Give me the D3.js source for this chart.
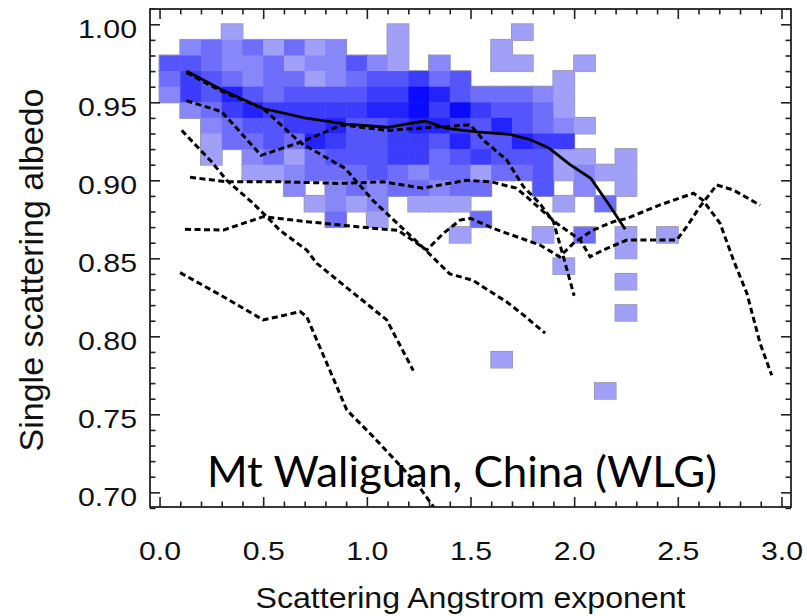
<!DOCTYPE html>
<html>
<head>
<meta charset="utf-8">
<script src="https://cdn.jsdelivr.net/npm/d3@7"></script>
<style>
  body { margin: 0; background: #fff; }
  text { font-family: "Liberation Sans", Arial, sans-serif; fill: #111; }
</style>
</head>
<body>
<div id="chart"></div>
<script>
"use strict";
(function() {

const WIDTH = 807
const HEIGHT = 616
const frame = { left: 150, right: 791, top: 9, bottom: 507 }

// heat map bins: left edge of each x bin, bottom edge of each y bin
const xBinLefts = [0.0, 0.1, 0.2, 0.3, 0.4, 0.5, 0.6, 0.7, 0.8, 0.9, 1.0, 1.1, 1.2,
                   1.3, 1.4, 1.5, 1.6, 1.7, 1.8, 1.9, 2.0, 2.1, 2.2, 2.3, 2.4]
const yBinBottoms = [0.99, 0.98, 0.97, 0.96, 0.95, 0.94, 0.93, 0.92, 0.91, 0.90, 0.89, 0.88,
                     0.87, 0.86, 0.85, 0.84, 0.83, 0.82, 0.81, 0.80, 0.79, 0.78, 0.77, 0.76]
// relative density per bin (0 = empty), one row per y bin
const binLevels = [
  [0,0,0,1,0, 0,0,0,0,0, 0,1,0,0,0, 0,0,1,0,0, 0,0,0,0,0],
  [0,2,3,2,3, 1,3,1,2,0, 0,1,0,0,0, 0,1,0,0,0, 0,0,0,0,0],
  [4,4,3,2,2, 3,1,2,2,4, 2,1,0,2,0, 0,1,1,0,0, 1,0,0,0,0],
  [3,5,4,3,2, 3,3,1,2,3, 4,4,5,3,4, 0,0,0,0,1, 0,0,0,0,0],
  [2,5,4,6,4, 3,4,4,4,4, 5,5,7,6,4, 3,3,3,2,1, 0,0,0,0,0],
  [0,2,3,5,6, 5,5,5,5,5, 6,6,7,5,7, 5,4,4,3,1, 0,0,0,0,0],
  [0,0,2,3,4, 4,5,5,6,4, 4,5,6,6,5, 4,6,4,3,2, 1,0,0,0,0],
  [0,0,1,3,3, 4,3,6,5,4, 4,5,5,4,6, 4,4,6,5,5, 0,0,0,0,0],
  [0,0,1,0,2, 3,1,3,4,4, 4,5,5,3,4, 5,4,4,4,1, 1,0,1,0,0],
  [0,0,0,0,1, 1,2,3,3,3, 4,3,2,3,3, 1,3,3,4,1, 2,1,1,0,0],
  [0,0,0,0,0, 0,2,0,2,3, 2,3,3,2,3, 3,0,0,4,0, 2,0,1,0,0],
  [0,0,0,0,0, 0,0,1,2,1, 2,0,1,1,1, 0,0,0,0,1, 0,3,0,0,0],
  [0,0,0,0,0, 0,0,0,3,0, 1,0,0,0,0, 3,0,0,0,0, 0,0,0,0,0],
  [0,0,0,0,0, 0,0,0,0,0, 0,0,0,0,1, 0,0,0,1,0, 3,0,1,0,1],
  [0,0,0,0,0, 0,0,0,0,0, 0,0,0,0,0, 0,0,0,0,0, 0,0,1,0,0],
  [0,0,0,0,0, 0,0,0,0,0, 0,0,0,0,0, 0,0,0,0,1, 0,0,0,0,0],
  [0,0,0,0,0, 0,0,0,0,0, 0,0,0,0,0, 0,0,0,0,0, 0,0,1,0,0],
  [0,0,0,0,0, 0,0,0,0,0, 0,0,0,0,0, 0,0,0,0,0, 0,0,0,0,0],
  [0,0,0,0,0, 0,0,0,0,0, 0,0,0,0,0, 0,0,0,0,0, 0,0,1,0,0],
  [0,0,0,0,0, 0,0,0,0,0, 0,0,0,0,0, 0,0,0,0,0, 0,0,0,0,0],
  [0,0,0,0,0, 0,0,0,0,0, 0,0,0,0,0, 0,0,0,0,0, 0,0,0,0,0],
  [0,0,0,0,0, 0,0,0,0,0, 0,0,0,0,0, 0,1,0,0,0, 0,0,0,0,0],
  [0,0,0,0,0, 0,0,0,0,0, 0,0,0,0,0, 0,0,0,0,0, 0,0,0,0,0],
  [0,0,0,0,0, 0,0,0,0,0, 0,0,0,0,0, 0,0,0,0,0, 0,1,0,0,0]
]

// solid curve (site mean)
const meanCurve = [[0.13,0.970],[0.30,0.958],[0.50,0.946],[0.70,0.940],[0.90,0.936],
  [1.10,0.934],[1.21,0.9365],[1.28,0.938],[1.385,0.9333],[1.53,0.931],[1.69,0.9295],
  [1.79,0.926],[1.88,0.9205],[1.98,0.910],[2.08,0.9013],[2.17,0.884],[2.246,0.8686]]

// dashed curves (other sites)
const dashA = [[0.13,0.951],[0.30,0.944],[0.49,0.916],[0.686,0.9247],[0.88,0.9355],
  [1.10,0.932],[1.35,0.9343],[1.50,0.9355],[1.56,0.926],[1.675,0.913],[1.755,0.896],
  [1.835,0.885],[1.90,0.8735],[1.948,0.851],[2.0,0.826]]
const dashB = [[0.13,0.969],[0.30,0.957],[0.50,0.946],[0.68,0.924],[0.895,0.9077],
  [1.03,0.887],[1.27,0.857],[1.40,0.840],[1.51,0.836],[1.675,0.822],[1.755,0.8137],[1.86,0.802]]
const dashC = [[0.107,0.932],[0.25,0.912],[0.324,0.900],[0.445,0.886],[0.517,0.8767],
  [0.58,0.868],[0.71,0.8553],[0.758,0.8468],[1.096,0.8105],[1.224,0.778]]
const dashD = [[0.147,0.902],[0.324,0.899],[0.60,0.899],[0.87,0.898],[1.08,0.899],
  [1.27,0.895],[1.48,0.900],[1.60,0.899],[1.72,0.895],[1.77,0.8895],[1.916,0.8724],
  [2.03,0.8617],[2.077,0.851],[2.14,0.8553],[2.254,0.8617],[2.495,0.8617],[2.543,0.8703],
  [2.607,0.8831],[2.688,0.897],[2.768,0.8938],[2.897,0.884]]
const dashE = [[0.123,0.8686],[0.308,0.8681],[0.50,0.8767],[0.71,0.8735],[1.08,0.8686],
  [1.15,0.868],[1.289,0.8553],[1.369,0.866],[1.45,0.8745],[1.50,0.8756],[1.61,0.8692],
  [1.723,0.8638],[1.835,0.8585],[1.93,0.851],[1.996,0.8596],[2.09,0.868],[2.19,0.8735],
  [2.254,0.8756],[2.414,0.8842],[2.575,0.8917],[2.62,0.8874],[2.704,0.8724],[2.768,0.849],
  [2.833,0.8276],[2.897,0.7955],[2.953,0.775]]
const dashF = [[0.099,0.8408],[0.308,0.8254],[0.50,0.8105],[0.678,0.8158],[0.71,0.8126],
  [0.807,0.7827],[0.903,0.7528],[1.031,0.7356],[1.24,0.7058],[1.32,0.691],[1.36,0.684]]
const dashedCurves = [dashA, dashB, dashC, dashD, dashE, dashF]

const xMajor = [0.0, 0.5, 1.0, 1.5, 2.0, 2.5, 3.0]
const xMinor = [0.1,0.2,0.3,0.4,0.6,0.7,0.8,0.9,1.1,1.2,1.3,1.4,1.6,1.7,1.8,1.9,
                2.1,2.2,2.3,2.4,2.6,2.7,2.8,2.9]
const yMajor = [0.70, 0.75, 0.80, 0.85, 0.90, 0.95, 1.00]
const yMinor = [0.69,0.71,0.72,0.73,0.74,0.76,0.77,0.78,0.79,0.81,0.82,0.83,0.84,
                0.86,0.87,0.88,0.89,0.91,0.92,0.93,0.94,0.96,0.97,0.98,0.99,1.01]

const BIN_W = 0.1
const BIN_H = 0.01

let x_scale = d3.scaleLinear().domain([-0.046, 3.046]).range([frame.left, frame.right])
let y_scale = d3.scaleLinear().domain([0.6906, 1.0098]).range([frame.bottom, frame.top])
let colour = d3.scaleLinear().domain([1, 7]).range(["#a0a0f8", "#0a0aff"])

var svg = d3.select("#chart").append("svg")
    .attr("width", WIDTH)
    .attr("height", HEIGHT)

svg.append("defs").append("clipPath").attr("id", "plot-clip")
  .append("rect")
    .attr("x", frame.left).attr("y", frame.top)
    .attr("width", frame.right - frame.left)
    .attr("height", frame.bottom - frame.top)

// flatten the bin table into cells
let cells = []
binLevels.forEach(function(row, j) {
    row.forEach(function(level, i) {
        if (level > 0) cells.push({ x: xBinLefts[i], y: yBinBottoms[j], level: level })
    })
})

let cellX = d => x_scale(d.x)
let cellY = d => y_scale(d.y + BIN_H)
let cellW = d => x_scale(d.x + BIN_W) - x_scale(d.x)
let cellH = d => y_scale(d.y) - y_scale(d.y + BIN_H)

let heat = svg.append("g").attr("clip-path", "url(#plot-clip)")

// grey outline layer underneath, then fills on top so only outer edges show
heat.selectAll("rect.edge").data(cells).enter().append("rect")
    .attr("class", "edge")
    .attr("x", cellX).attr("y", cellY).attr("width", cellW).attr("height", cellH)
    .style("fill", "none")
    .style("stroke", "#9a9aae")
    .style("stroke-width", 2)

heat.selectAll("rect.cell").data(cells).enter().append("rect")
    .attr("class", "cell")
    .attr("x", cellX).attr("y", cellY)
    .attr("width", d => cellW(d) + 0.4).attr("height", d => cellH(d) + 0.4)
    .style("fill", d => colour(d.level))

var line = d3.line()
  .x(function(d) { return x_scale(d[0]); })
  .y(function(d) { return y_scale(d[1]); })

let curves = svg.append("g").attr("clip-path", "url(#plot-clip)")

curves.selectAll("path.dashed").data(dashedCurves).enter().append("path")
    .attr("class", "dashed")
    .attr("d", line)
    .style("fill", "none")
    .style("stroke", "#000")
    .style("stroke-width", 3)
    .style("stroke-dasharray", "6,3.5")

curves.append("path")
    .attr("d", line(meanCurve))
    .style("fill", "none")
    .style("stroke", "#000")
    .style("stroke-width", 2.8)

// axes: ticks point inwards on all four sides
function drawAxes() {
    let axes = [
        { gen: d3.axisBottom, scale: x_scale, at: `translate(0,${frame.bottom})`, major: xMajor, minor: xMinor, labels: true },
        { gen: d3.axisTop, scale: x_scale, at: `translate(0,${frame.top})`, major: xMajor, minor: xMinor, labels: false },
        { gen: d3.axisLeft, scale: y_scale, at: `translate(${frame.left},0)`, major: yMajor, minor: yMinor, labels: true },
        { gen: d3.axisRight, scale: y_scale, at: `translate(${frame.right},0)`, major: yMajor, minor: yMinor, labels: false }
    ]
    axes.forEach(function(a) {
        let gMinor = svg.append("g").attr("transform", a.at)
            .call(a.gen(a.scale).tickValues(a.minor).tickSize(-5.5).tickFormat(""))
        let gMajor = svg.append("g").attr("transform", a.at)
            .call(a.gen(a.scale).tickValues(a.major).tickSize(-10)
                .tickPadding(a.gen === d3.axisLeft ? 13 : 35)
                .tickFormat(a.labels ? (a.gen === d3.axisLeft ? d3.format(".2f") : d3.format(".1f")) : ""))
        ;[gMinor, gMajor].forEach(function(g) {
            g.select(".domain").remove()
            g.selectAll(".tick line").style("stroke", "#222").style("stroke-width", 1.6)
        })
        gMajor.selectAll("text")
            .style("font-size", "26px")
            .style("fill", "#111")
            .attr("lengthAdjust", "spacingAndGlyphs")
            .attr("textLength", a.gen === d3.axisLeft ? 59 : 42)
        if (a.gen === d3.axisLeft) gMajor.selectAll("text").attr("y", 4.5)
    })
}
drawAxes()

svg.append("rect")
    .attr("x", frame.left).attr("y", frame.top)
    .attr("width", frame.right - frame.left)
    .attr("height", frame.bottom - frame.top)
    .style("fill", "none")
    .style("stroke", "#222")
    .style("stroke-width", 1.8)

svg.append("text")
    .attr("x", (frame.left + frame.right) / 2)
    .attr("y", 608)
    .attr("text-anchor", "middle")
    .attr("textLength", 430)
    .attr("lengthAdjust", "spacingAndGlyphs")
    .style("font-size", "30px")
    .text("Scattering Angstrom exponent")

svg.append("text")
    .attr("transform", "translate(43,270) rotate(-90)")
    .attr("text-anchor", "middle")
    .style("font-size", "34px")
    .text("Single scattering albedo")

svg.append("text")
    .attr("x", 207)
    .attr("y", 487)
    .attr("textLength", 510)
    .attr("lengthAdjust", "spacingAndGlyphs")
    .style("font-family", "Lato, 'Open Sans', sans-serif")
    .style("font-size", "42px")
    .style("fill", "#000")
    .text("Mt Waliguan, China (WLG)")

})();
</script>
</body>
</html>
